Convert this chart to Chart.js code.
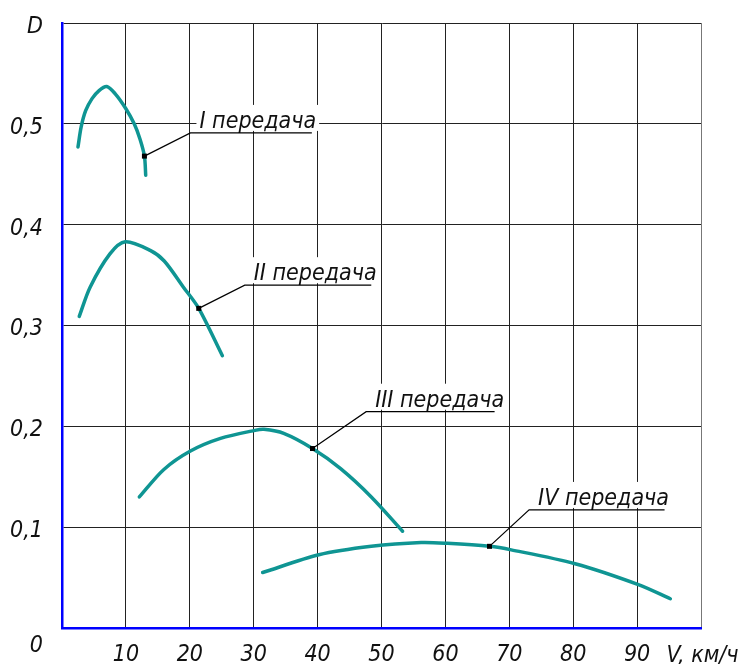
<!DOCTYPE html>
<html>
<head>
<meta charset="utf-8">
<title>D(V)</title>
<script src="https://cdn.jsdelivr.net/npm/chart.js@4.4.1/dist/chart.umd.min.js"></script>
<style>
    html, body { margin: 0; padding: 0; background: #fff; }
    #wrap { width: 742px; height: 664px; }
</style>
</head>
<body>
<div id="wrap"><canvas id="dynChart"></canvas></div>
<script>
// передачи
var gearNames = ['I передача', 'II передача', 'III передача', 'IV передача'];

// V, км/ч  и  D для каждой передачи
var v1 = [2.5, 3.0, 3.7, 4.7, 5.8, 7.0, 8.3, 10.0, 11.3, 12.2, 12.9, 13.1];
var d1 = [0.477, 0.497, 0.513, 0.525, 0.533, 0.537, 0.530, 0.515, 0.500, 0.485, 0.468, 0.449];

var v2 = [2.7, 4.4, 7.5, 9.9, 13.8, 16.0, 19.0, 21.4, 25.1];
var d2 = [0.309, 0.338, 0.371, 0.383, 0.3745, 0.364, 0.338, 0.317, 0.270];

var v3 = [12.1, 15.9, 20.1, 24.8, 30.2, 31.6, 34.7, 39.2, 43.6, 48.4, 53.3];
var d3 = [0.130, 0.157, 0.1755, 0.188, 0.196, 0.197, 0.193, 0.178, 0.158, 0.130, 0.096];

var v4 = [31.4, 40.2, 48.4, 56.2, 60.3, 66.9, 70.3, 80.3, 90.2, 95.2];
var d4 = [0.055, 0.0726, 0.081, 0.0848, 0.084, 0.081, 0.0775, 0.0637, 0.043, 0.029];

// точки выносок
var markerV = [12.9, 21.4, 39.2, 66.9];
var markerD = [0.468, 0.317, 0.178, 0.081];

// подписи осей
var xTickValues = [10, 20, 30, 40, 50, 60, 70, 80, 90];
var yTickValues = [0, 0.1, 0.2, 0.3, 0.4, 0.5, 0.6];
var xAxisTitle = 'V, км/ч';
var yAxisTitle = 'D';

document.addEventListener('DOMContentLoaded', function() {
    initDynamicChart();
});

var FONT_FAMILY = "'Liberation Sans Narrow', 'DejaVu Sans Condensed', sans-serif";
var CURVE_COLOR = '#0f9593';

function toPoints(xs, ys) {
    return xs.map(function(x, i) { return { x: x, y: ys[i] }; });
}

function curve(xs, ys) {
    return {
        data: toPoints(xs, ys),
        showLine: true,
        borderColor: CURVE_COLOR,
        borderWidth: 3.5,
        borderCapStyle: 'round',
        borderJoinStyle: 'round',
        pointRadius: 0,
        tension: 0.3,
        fill: false
    };
}

// положение выносок (элемент оформления, в единицах осей)
var leaderLayout = [
    { v: 20.1, d: 0.491, end: 39.1 },
    { v: 28.6, d: 0.340, end: 48.4 },
    { v: 47.6, d: 0.2145, end: 67.7 },
    { v: 73.1, d: 0.1171, end: 94.3 }
];

var leaderPlugin = {
    id: 'leaders',
    afterDatasetsDraw: function(chart) {
        var ctx = chart.ctx;
        var xs = chart.scales.x;
        var ys = chart.scales.y;
        ctx.save();
        ctx.font = 'italic 23px ' + FONT_FAMILY;
        gearNames.forEach(function(name, i) {
            var mx = xs.getPixelForValue(markerV[i]);
            var my = ys.getPixelForValue(markerD[i]);
            var ex = xs.getPixelForValue(leaderLayout[i].v);
            var ey = ys.getPixelForValue(leaderLayout[i].d);
            var endX = xs.getPixelForValue(leaderLayout[i].end);
            var tw = ctx.measureText(name).width;
            // белая подложка под текстом
            ctx.fillStyle = '#fff';
            ctx.fillRect(ex + 6, ey - 28, tw + 6, 26);
            ctx.fillStyle = '#111';
            ctx.textAlign = 'left';
            ctx.textBaseline = 'alphabetic';
            ctx.fillText(name, ex + 9, ey - 5);
            // линия выноски и полка
            ctx.strokeStyle = '#000';
            ctx.lineWidth = 1.2;
            ctx.beginPath();
            ctx.moveTo(mx, my);
            ctx.lineTo(ex, ey);
            ctx.lineTo(endX, ey);
            ctx.stroke();
            ctx.fillStyle = '#000';
            ctx.fillRect(mx - 2.5, my - 2.5, 5, 5);
        });
        // подпись оси V
        ctx.fillStyle = '#111';
        ctx.font = 'italic 23px ' + FONT_FAMILY;
        ctx.textAlign = 'left';
        ctx.textBaseline = 'middle';
        ctx.fillText(xAxisTitle, xs.getPixelForValue(94.6), chart.chartArea.bottom + 28);
        ctx.restore();
    }
};

function initDynamicChart() {
    var ctx = document.getElementById('dynChart');
    if (!ctx) return;

    var tickFont = { family: FONT_FAMILY, size: 23, style: 'italic', weight: 'normal' };

    new Chart(ctx, {
        type: 'scatter',
        data: {
            datasets: [
                curve(v1, d1),
                curve(v2, d2),
                curve(v3, d3),
                curve(v4, d4)
            ]
        },
        options: {
            responsive: true,
            maintainAspectRatio: false,
            animation: false,
            layout: {
                padding: { top: 23, right: 41, left: 0, bottom: 0 }
            },
            plugins: {
                legend: { display: false },
                tooltip: { enabled: false }
            },
            scales: {
                x: {
                    type: 'linear',
                    min: 0,
                    max: 100,
                    afterBuildTicks: function(scale) {
                        scale.ticks = [0].concat(xTickValues, [100]).map(function(v) { return { value: v }; });
                    },
                    afterFit: function(scale) {
                        scale.height = 36;
                        scale.paddingLeft = 0;
                        scale.paddingRight = 0;
                    },
                    ticks: {
                        autoSkip: false,
                        maxRotation: 0,
                        padding: 13,
                        color: '#111',
                        font: tickFont,
                        callback: function(value) {
                            return xTickValues.indexOf(value) >= 0 ? String(value) : '';
                        }
                    },
                    grid: {
                        drawTicks: false,
                        lineWidth: 1,
                        color: function(c) {
                            return c.tick && c.tick.value === 100 ? '#777' : '#222';
                        }
                    },
                    border: { color: '#0000ff', width: 2.5 }
                },
                y: {
                    type: 'linear',
                    min: 0,
                    max: 0.6,
                    afterBuildTicks: function(scale) {
                        scale.ticks = yTickValues.map(function(v) { return { value: v }; });
                    },
                    afterFit: function(scale) {
                        scale.width = 62;
                        scale.paddingTop = 0;
                        scale.paddingBottom = 0;
                    },
                    ticks: {
                        autoSkip: false,
                        padding: 19,
                        labelOffset: 4,
                        color: '#111',
                        font: tickFont,
                        callback: function(value) {
                            var v = Math.round(value * 10) / 10;
                            if (v === 0.6) return yAxisTitle;
                            if (v === 0) return ['', '0'];
                            return v.toFixed(1).replace('.', ',');
                        }
                    },
                    grid: {
                        drawTicks: false,
                        lineWidth: 1,
                        color: '#222'
                    },
                    border: { color: '#0000ff', width: 2.5 }
                }
            }
        },
        plugins: [leaderPlugin]
    });
}
</script>
</body>
</html>
